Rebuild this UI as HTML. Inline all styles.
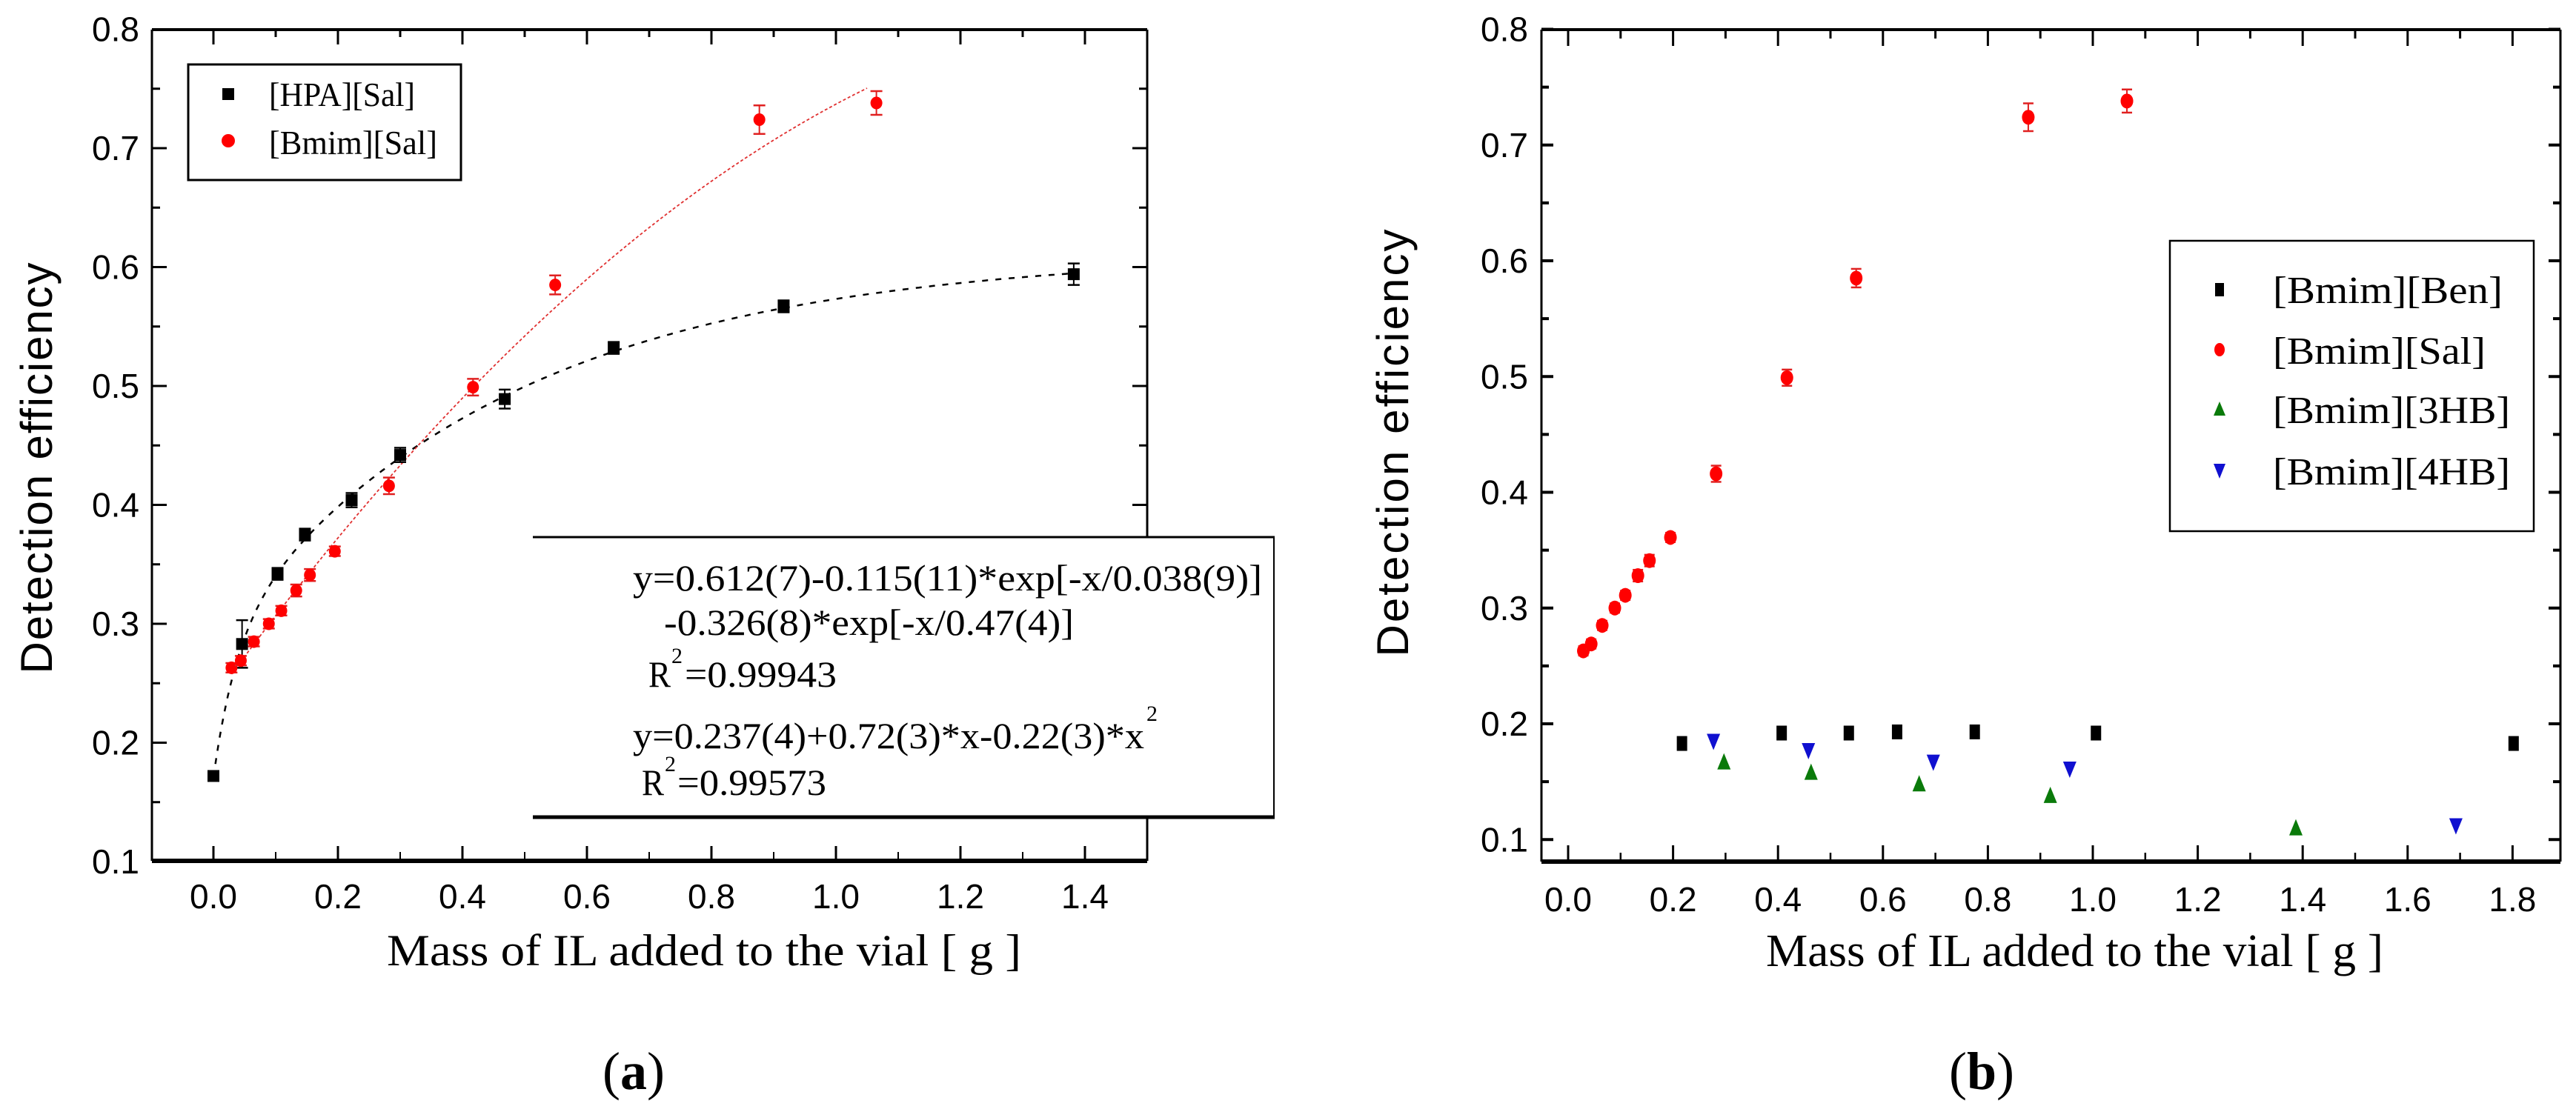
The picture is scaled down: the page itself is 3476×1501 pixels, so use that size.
<!DOCTYPE html>
<html><head><meta charset="utf-8"><style>
html,body{margin:0;padding:0;background:#fff;}
svg{display:block;}
</style></head><body>
<svg id="fig" xmlns="http://www.w3.org/2000/svg" width="3476" height="1501" viewBox="0 0 3476 1501">
<rect x="0" y="0" width="3476" height="1501" fill="#fff"/>
<g id="pa"></g>
<g id="pb"></g>
</svg>
<script>
// ---- Panel (a) data ----
const aHpaX = [0.0, 0.046, 0.103, 0.147, 0.222, 0.300, 0.468, 0.643, 0.916, 1.382];
const aHpaY = [0.172, 0.283, 0.342, 0.375, 0.404, 0.442, 0.489, 0.532, 0.567, 0.594];
const aHpaErr = [0.004, 0.020, 0.005, 0.005, 0.006, 0.006, 0.008, 0.005, 0.005, 0.009];
const salX = [0.029, 0.044, 0.065, 0.089, 0.109, 0.133, 0.155, 0.195, 0.282, 0.417, 0.549, 0.877, 1.065];
const salY = [0.263, 0.269, 0.285, 0.300, 0.311, 0.328, 0.341, 0.361, 0.416, 0.499, 0.585, 0.724, 0.738];
const salErr = [0.004, 0.004, 0.004, 0.004, 0.004, 0.005, 0.005, 0.004, 0.007, 0.007, 0.008, 0.012, 0.010];
const aXTicks = [0.0, 0.2, 0.4, 0.6, 0.8, 1.0, 1.2, 1.4];
const aXTickLabels = ["0.0","0.2","0.4","0.6","0.8","1.0","1.2","1.4"];
const yTicks = [0.1, 0.2, 0.3, 0.4, 0.5, 0.6, 0.7, 0.8];
const yTickLabels = ["0.1","0.2","0.3","0.4","0.5","0.6","0.7","0.8"];
// fit parameters (printed in equation box)
const fitExp = [0.612, 0.115, 0.038, 0.326, 0.47];
const fitPoly = [0.237, 0.72, -0.22];

// ---- Panel (b) data ----
const benX = [0.217, 0.407, 0.535, 0.627, 0.775, 1.006, 1.802];
const benY = [0.183, 0.192, 0.192, 0.193, 0.193, 0.192, 0.183];
const hb3X = [0.297, 0.463, 0.669, 0.919, 1.387];
const hb3Y = [0.167, 0.158, 0.148, 0.138, 0.110];
const hb4X = [0.277, 0.458, 0.696, 0.956, 1.692];
const hb4Y = [0.185, 0.177, 0.167, 0.161, 0.112];
const bXTicks = [0.0, 0.2, 0.4, 0.6, 0.8, 1.0, 1.2, 1.4, 1.6, 1.8];
const bXTickLabels = ["0.0","0.2","0.4","0.6","0.8","1.0","1.2","1.4","1.6","1.8"];

const NS = "http://www.w3.org/2000/svg";
function mk(parent, tag, attrs, text) {
  const e = document.createElementNS(NS, tag);
  for (const k in attrs) e.setAttribute(k, attrs[k]);
  if (text !== undefined) e.textContent = text;
  parent.appendChild(e);
  return e;
}
const SANS = '"Liberation Sans", Arial, sans-serif';
const SERIF = '"Liberation Serif", "Times New Roman", serif';

// ================= Panel A =================
const pa = document.getElementById('pa');
const ax = v => 288 + v * 840;
const ay = v => 39.5 + (0.8 - v) * 1605;
const A = {l:205, r:1548, t:40, b:1162};

// axes
let e;
e = mk(pa,'line',{x1:A.l,y1:A.t,x2:A.l,y2:A.b,stroke:'#000','stroke-width':3});
 
e = mk(pa,'line',{x1:A.l,y1:A.b,x2:A.r,y2:A.b,stroke:'#000','stroke-width':6});
 
e = mk(pa,'line',{x1:A.l,y1:A.t,x2:A.r,y2:A.t,stroke:'#000','stroke-width':4});
 
e = mk(pa,'line',{x1:A.r,y1:A.t,x2:A.r,y2:A.b,stroke:'#000','stroke-width':3});
 

// y ticks
for (let i = 0; i < yTicks.length; i++) {
  const y = ay(yTicks[i]);
  mk(pa,'line',{x1:A.l,y1:y,x2:A.l+20,y2:y,stroke:'#000','stroke-width':3});
  mk(pa,'line',{x1:A.r,y1:y,x2:A.r-20,y2:y,stroke:'#000','stroke-width':3});
  if (i < yTicks.length - 1) {
    const ym = ay(yTicks[i] + 0.05);
    mk(pa,'line',{x1:A.l,y1:ym,x2:A.l+11,y2:ym,stroke:'#000','stroke-width':3});
    mk(pa,'line',{x1:A.r,y1:ym,x2:A.r-11,y2:ym,stroke:'#000','stroke-width':3});
  }
  e = mk(pa,'text',{x:188,y:y+16,'font-family':SANS,'font-size':46,'text-anchor':'end',fill:'#000'}, yTickLabels[i]);
   
}
// x ticks
for (let i = 0; i < aXTicks.length; i++) {
  const x = ax(aXTicks[i]);
  mk(pa,'line',{x1:x,y1:A.b,x2:x,y2:A.b-20,stroke:'#000','stroke-width':3});
  mk(pa,'line',{x1:x,y1:A.t,x2:x,y2:A.t+20,stroke:'#000','stroke-width':3});
  const xm = ax(aXTicks[i] + 0.1);
  if (xm < A.r) {
    mk(pa,'line',{x1:xm,y1:A.b,x2:xm,y2:A.b-12,stroke:'#000','stroke-width':2});
    mk(pa,'line',{x1:xm,y1:A.t,x2:xm,y2:A.t+10,stroke:'#000','stroke-width':3});
  }
  const xm2 = ax(aXTicks[i] - 0.1);
  if (i === 0 && xm2 > A.l) {
    mk(pa,'line',{x1:xm2,y1:A.b,x2:xm2,y2:A.b-12,stroke:'#000','stroke-width':2});
    mk(pa,'line',{x1:xm2,y1:A.t,x2:xm2,y2:A.t+10,stroke:'#000','stroke-width':3});
  }
  e = mk(pa,'text',{x:x,y:1226,'font-family':SANS,'font-size':46,'text-anchor':'middle',fill:'#000'}, aXTickLabels[i]);
   
}

// fit curves
function fitExpF(x){ return fitExp[0] - fitExp[1]*Math.exp(-x/fitExp[2]) - fitExp[3]*Math.exp(-x/fitExp[4]); }
function fitPolyF(x){ return fitPoly[0] + fitPoly[1]*x + fitPoly[2]*x*x; }
let d = '';
for (let i = 0; i <= 300; i++) { const x = 1.382*i/300; d += (i?'L':'M') + ax(x).toFixed(1) + ',' + ay(fitExpF(x)).toFixed(1); }
e = mk(pa,'path',{d:d,fill:'none',stroke:'#000','stroke-width':2.5,'stroke-dasharray':'8,10'});
 
d = '';
for (let i = 0; i <= 300; i++) { const x = 0.029 + (1.05-0.029)*i/300; d += (i?'L':'M') + ax(x).toFixed(1) + ',' + ay(fitPolyF(x)).toFixed(1); }
e = mk(pa,'path',{d:d,fill:'none',stroke:'#e03030','stroke-width':1.8,'stroke-dasharray':'4,3'});
 

function errbar(g, cx, yv, err, fy, color, cap) {
  const y1 = fy(yv + err), y2 = fy(yv - err);
  mk(g,'line',{x1:cx,y1:y1,x2:cx,y2:y2,stroke:color,'stroke-width':2});
  mk(g,'line',{x1:cx-cap,y1:y1,x2:cx+cap,y2:y1,stroke:color,'stroke-width':2.5});
  mk(g,'line',{x1:cx-cap,y1:y2,x2:cx+cap,y2:y2,stroke:color,'stroke-width':2.5});
}
// HPA points
for (let i = 0; i < aHpaX.length; i++) {
  const cx = ax(aHpaX[i]), cy = ay(aHpaY[i]);
  errbar(pa, cx, aHpaY[i], aHpaErr[i], ay, '#000', 8);
  e = mk(pa,'rect',{x:cx-8,y:cy-8,width:16,height:16,fill:'#000'});
   
}
// Bmim Sal points (a)
for (let i = 0; i < salX.length; i++) {
  const cx = ax(salX[i]), cy = ay(salY[i]);
  errbar(pa, cx, salY[i], salErr[i], ay, '#e02020', 8);
  e = mk(pa,'ellipse',{cx:cx,cy:cy,rx:8,ry:8.5,fill:'#ff0000'});
   
}

// legend (a)
e = mk(pa,'rect',{x:254,y:87,width:368,height:156,fill:'#fff',stroke:'#000','stroke-width':3});
 
mk(pa,'rect',{x:300,y:119,width:16,height:16,fill:'#000'});
mk(pa,'circle',{cx:308,cy:190,r:9,fill:'#ff0000'});
e = mk(pa,'text',{x:363,y:143,'font-family':SERIF,'font-size':46,textLength:197,lengthAdjust:'spacingAndGlyphs',fill:'#000'},'[HPA][Sal]');
 
e = mk(pa,'text',{x:363,y:208,'font-family':SERIF,'font-size':46,textLength:227,lengthAdjust:'spacingAndGlyphs',fill:'#000'},'[Bmim][Sal]');
 

// equation box
e = mk(pa,'rect',{x:719,y:725,width:1000,height:378,fill:'#fff',stroke:'none'});
 
mk(pa,'line',{x1:719,y1:725,x2:1720,y2:725,stroke:'#000','stroke-width':3});
mk(pa,'line',{x1:1719,y1:725,x2:1719,y2:1103,stroke:'#000','stroke-width':2});
mk(pa,'line',{x1:719,y1:1103,x2:1720,y2:1103,stroke:'#000','stroke-width':5});
const eqF = {'font-family':SERIF,'font-size':50,fill:'#000',lengthAdjust:'spacingAndGlyphs'};
function eq(x,y,len,txt,name){ const t = mk(pa,'text',Object.assign({x:x,y:y,textLength:len},eqF),txt);   return t; }
eq(854,797,849,'y=0.612(7)-0.115(11)*exp[-x/0.038(9)]','equation-exp-line1');
eq(896,857,553,'-0.326(8)*exp[-x/0.47(4)]','equation-exp-line2');
eq(875,927,30,'R','r2-exp-label');
mk(pa,'text',{x:906,y:895,'font-family':SERIF,'font-size':30,fill:'#000'},'2');
eq(924,927,205,'=0.99943','r2-exp-value');
eq(854,1010,690,'y=0.237(4)+0.72(3)*x-0.22(3)*x','equation-poly');
mk(pa,'text',{x:1547,y:973,'font-family':SERIF,'font-size':30,fill:'#000'},'2');
eq(866,1073,30,'R','r2-poly-label');
mk(pa,'text',{x:897,y:1041,'font-family':SERIF,'font-size':30,fill:'#000'},'2');
eq(914,1073,201,'=0.99573','r2-poly-value');

// titles (a)
e = mk(pa,'text',{x:0,y:0,transform:'translate(70,632) rotate(-90)','font-family':SANS,'font-size':60,'text-anchor':'middle',textLength:555,lengthAdjust:'spacing',fill:'#000'},'Detection efficiency');
 
e = mk(pa,'text',{x:522,y:1303,'font-family':SERIF,'font-size':60,textLength:856,lengthAdjust:'spacingAndGlyphs',fill:'#000'},'Mass of IL added to the vial [ g ]');
 
e = mk(pa,'text',{x:855,y:1470,'font-family':SERIF,'font-size':72,'text-anchor':'middle',fill:'#000'});
 
mk(e,'tspan',{},'(');mk(e,'tspan',{'font-weight':'bold'},'a');mk(e,'tspan',{},')');

// ================= Panel B =================
const pb = document.getElementById('pb');
const bx = v => 2116 + v * 708;
const by = v => 39.5 + (0.8 - v) * 1562.5;
const B = {l:2080, r:3455, t:40, b:1163};
e = mk(pb,'line',{x1:B.l,y1:B.t,x2:B.l,y2:B.b,stroke:'#000','stroke-width':3});
 
e = mk(pb,'line',{x1:B.l,y1:B.b,x2:B.r,y2:B.b,stroke:'#000','stroke-width':6});
 
e = mk(pb,'line',{x1:B.l,y1:B.t,x2:B.r,y2:B.t,stroke:'#000','stroke-width':4});
 
e = mk(pb,'line',{x1:B.r,y1:B.t,x2:B.r,y2:B.b,stroke:'#000','stroke-width':3});
 

for (let i = 0; i < yTicks.length; i++) {
  const y = by(yTicks[i]);
  mk(pb,'line',{x1:B.l,y1:y,x2:B.l+16,y2:y,stroke:'#000','stroke-width':4});
  mk(pb,'line',{x1:B.r,y1:y,x2:B.r-16,y2:y,stroke:'#000','stroke-width':4});
  if (i < yTicks.length - 1) {
    const ym = by(yTicks[i] + 0.05);
    mk(pb,'line',{x1:B.l,y1:ym,x2:B.l+10,y2:ym,stroke:'#000','stroke-width':4});
    mk(pb,'line',{x1:B.r,y1:ym,x2:B.r-10,y2:ym,stroke:'#000','stroke-width':4});
  }
  if (i === 0) { const ym = by(0.05+0.05/1); }
  e = mk(pb,'text',{x:2062,y:y+16,'font-family':SANS,'font-size':46,'text-anchor':'end',fill:'#000'}, yTickLabels[i]);
   
}
for (let i = 0; i < bXTicks.length; i++) {
  const x = bx(bXTicks[i]);
  mk(pb,'line',{x1:x,y1:B.b,x2:x,y2:B.b-22,stroke:'#000','stroke-width':3});
  mk(pb,'line',{x1:x,y1:B.t,x2:x,y2:B.t+22,stroke:'#000','stroke-width':3});
  const xm = bx(bXTicks[i] + 0.1);
  if (xm < B.r) {
    mk(pb,'line',{x1:xm,y1:B.b,x2:xm,y2:B.b-12,stroke:'#000','stroke-width':2.5});
    mk(pb,'line',{x1:xm,y1:B.t,x2:xm,y2:B.t+12,stroke:'#000','stroke-width':3});
  }
  e = mk(pb,'text',{x:x,y:1230,'font-family':SANS,'font-size':46,'text-anchor':'middle',fill:'#000'}, bXTickLabels[i]);
   
}

// series b
for (let i = 0; i < salX.length; i++) {
  const cx = bx(salX[i]), cy = by(salY[i]);
  errbar(pb, cx, salY[i], salErr[i], by, '#e02020', 7);
  e = mk(pb,'ellipse',{cx:cx,cy:cy,rx:8.5,ry:10,fill:'#ff0000'});
   
}
for (let i = 0; i < benX.length; i++) {
  const cx = bx(benX[i]), cy = by(benY[i]);
  e = mk(pb,'rect',{x:cx-7,y:cy-10,width:14,height:20,fill:'#000'});
   
}
for (let i = 0; i < hb3X.length; i++) {
  const cx = bx(hb3X[i]), cy = by(hb3Y[i]);
  e = mk(pb,'polygon',{points:`${cx},${cy-12} ${cx-9},${cy+10} ${cx+9},${cy+10}`,fill:'#0a7a0a'});
   
}
for (let i = 0; i < hb4X.length; i++) {
  const cx = bx(hb4X[i]), cy = by(hb4Y[i]);
  e = mk(pb,'polygon',{points:`${cx-9},${cy-10} ${cx+9},${cy-10} ${cx},${cy+12}`,fill:'#1010d0'});
   
}

// legend (b)
e = mk(pb,'rect',{x:2928,y:325,width:491,height:392,fill:'#fff',stroke:'#000','stroke-width':2.5});
 
mk(pb,'rect',{x:2989,y:382,width:12,height:18,fill:'#000'});
mk(pb,'ellipse',{cx:2995,cy:472,rx:7,ry:9,fill:'#ff0000'});
mk(pb,'polygon',{points:'2995,542 2987,561 3003,561',fill:'#0a7a0a'});
mk(pb,'polygon',{points:'2987,626 3003,626 2995,646',fill:'#1010d0'});
const lgT = ['[Bmim][Ben]','[Bmim][Sal]','[Bmim][3HB]','[Bmim][4HB]'];
const lgY = [409, 491, 571, 654];
const lgW = [310, 287, 320, 320];
const lgN = ['legend-entry-bmim-ben','legend-entry-bmim-sal-b','legend-entry-bmim-3hb','legend-entry-bmim-4hb'];
for (let i = 0; i < 4; i++) {
  e = mk(pb,'text',{x:3067,y:lgY[i],'font-family':SERIF,'font-size':52,textLength:lgW[i],lengthAdjust:'spacingAndGlyphs',fill:'#000'}, lgT[i]);
   
}

e = mk(pb,'text',{x:0,y:0,transform:'translate(1900,598) rotate(-90)','font-family':SANS,'font-size':60,'text-anchor':'middle',textLength:577,lengthAdjust:'spacing',fill:'#000'},'Detection efficiency');
 
e = mk(pb,'text',{x:2383,y:1304,'font-family':SERIF,'font-size':62,textLength:833,lengthAdjust:'spacingAndGlyphs',fill:'#000'},'Mass of IL added to the vial [ g ]');
 
e = mk(pb,'text',{x:2674,y:1470,'font-family':SERIF,'font-size':72,'text-anchor':'middle',fill:'#000'});
 
mk(e,'tspan',{},'(');mk(e,'tspan',{'font-weight':'bold'},'b');mk(e,'tspan',{},')');
</script>
</body></html>
